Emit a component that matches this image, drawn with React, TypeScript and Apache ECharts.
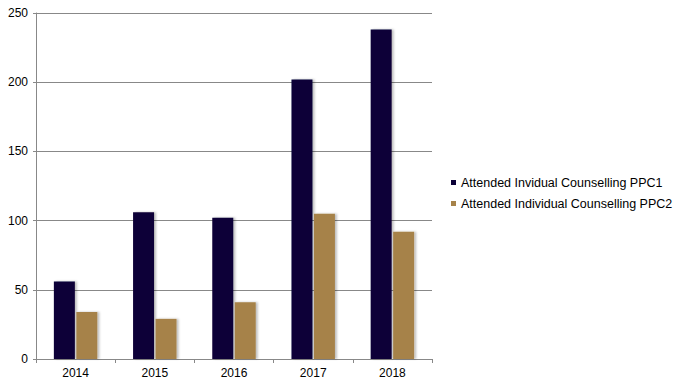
import React, { useEffect, useRef } from "react";
import * as echarts from "echarts";

const categories = ["2014", "2015", "2016", "2017", "2018"];
const ppc1 = [56, 106, 102, 202, 238];
const ppc2 = [34, 29, 41, 105, 92];
const seriesNames = ["Attended Invidual Counselling PPC1", "Attended Individual Counselling PPC2"];

export default function App() {
  const ref = useRef<HTMLDivElement>(null);
  useEffect(() => {
    const chart = echarts.init(ref.current!, null, { renderer: "svg" });
    const font = "Liberation Sans, Arial, sans-serif";
    const shadow = { shadowColor: "rgba(0,0,0,0.25)", shadowBlur: 2, shadowOffsetX: 2, shadowOffsetY: 0 };
    chart.setOption({
      animation: false,
      backgroundColor: "#ffffff",
      grid: { left: 36, right: 254, top: 13, bottom: 28, containLabel: false },
      legend: {
        orient: "vertical",
        left: 451,
        top: 176,
        padding: 0,
        itemWidth: 5,
        itemHeight: 5,
        itemGap: 8,
        itemStyle: { borderWidth: 0 },
        icon: "rect",
        textStyle: { fontFamily: font, fontSize: 12.5, color: "#000" },
        data: seriesNames,
      },
      xAxis: {
        type: "category",
        data: categories,
        axisLine: { lineStyle: { color: "#888", width: 1 } },
        axisTick: { show: true, length: 4, lineStyle: { color: "#888" } },
        axisLabel: { fontFamily: font, fontSize: 12, color: "#000", margin: 8 },
      },
      yAxis: {
        type: "value",
        min: 0,
        max: 250,
        interval: 50,
        axisLine: { show: true, lineStyle: { color: "#888", width: 1 } },
        axisTick: { show: true, length: 3, lineStyle: { color: "#888" } },
        splitLine: { lineStyle: { color: "#888", width: 1 } },
        axisLabel: { fontFamily: font, fontSize: 12, color: "#000", margin: 8 },
      },
      series: [
        {
          name: seriesNames[0],
          type: "bar",
          data: ppc1,
          barWidth: 21,
          barGap: "7%",
          itemStyle: { color: "#0b0037", ...shadow },
        },
        {
          name: seriesNames[1],
          type: "bar",
          data: ppc2,
          barWidth: 21,
          itemStyle: { color: "#a68249", ...shadow },
        },
      ],
    });
    return () => chart.dispose();
  }, []);
  return <div ref={ref} style={{ width: 686, height: 387, position: "absolute", left: 0, top: 0 }} />;
}
